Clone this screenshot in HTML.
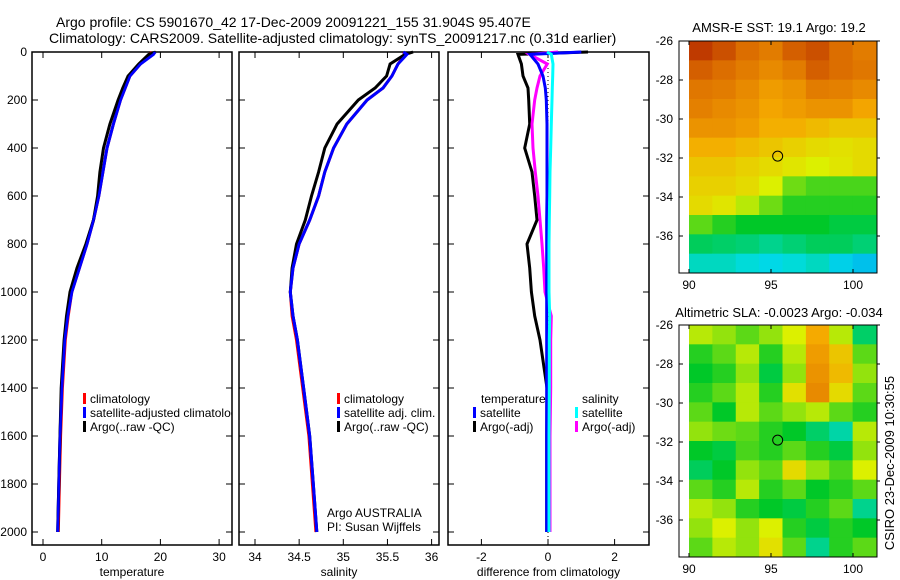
<!DOCTYPE html>
<html><head><meta charset="utf-8">
<style>
html,body{margin:0;padding:0;background:#fff;}
svg{display:block;font-family:"Liberation Sans",sans-serif;}
</style></head>
<body>
<svg id="fig" width="900" height="580" viewBox="0 0 900 580">
<text x="56" y="27" font-size="14">Argo profile: CS 5901670_42 17-Dec-2009 20091221_155 31.904S 95.407E</text>
<text x="49" y="43" font-size="14">Climatology: CARS2009. Satellite-adjusted climatology: synTS_20091217.nc (0.31d earlier)</text>
<text x="779" y="32" font-size="13" text-anchor="middle">AMSR-E SST: 19.1 Argo: 19.2</text>
<text x="779" y="317" font-size="13" text-anchor="middle">Altimetric SLA: -0.0023 Argo: -0.034</text>
<text x="0" y="0" font-size="13" text-anchor="middle" transform="translate(894,463) rotate(-90)">CSIRO 23-Dec-2009 10:30:55</text>
</svg>
<script>
// ---- data ----
const depths=[0,10,50,100,150,200,300,400,500,600,700,800,900,1000,1100,1200,1400,1600,1800,2000];
const tempClim=[18.2,18.6,16.6,14.8,14.0,13.2,12.0,10.9,10.2,9.5,8.6,7.5,6.2,4.9,4.3,3.8,3.3,3.0,2.8,2.6];
const tempSat=[19.1,18.8,16.6,14.8,14.0,13.2,12.0,10.9,10.2,9.5,8.6,7.5,6.2,4.9,4.2,3.7,3.2,2.9,2.7,2.5];
const tempArgo=[19.2,18.0,16.3,14.5,13.6,12.8,11.4,10.3,9.7,9.3,8.6,7.3,5.8,4.6,4.0,3.6,3.1,2.9,2.7,2.5];
const salClim=[35.68,35.70,35.62,35.55,35.45,35.27,35.04,34.89,34.79,34.72,34.62,34.50,34.43,34.40,34.42,34.47,34.54,34.61,34.65,34.69];
const salSat=[35.68,35.72,35.62,35.55,35.45,35.27,35.04,34.89,34.79,34.72,34.62,34.50,34.43,34.40,34.43,34.48,34.55,34.62,34.66,34.70];
const salArgo=[35.79,35.70,35.53,35.49,35.36,35.17,34.93,34.79,34.72,34.64,34.57,34.47,34.42,34.40,34.43,34.48,34.55,34.62,34.66,34.70];
const diffTSat=[1.0,-0.54,-0.3,-0.15,-0.08,-0.05,-0.03,-0.03,-0.03,-0.03,-0.04,-0.04,-0.04,-0.04,-0.04,-0.04,-0.04,-0.04,-0.04,-0.04];
const diffTArgo=[1.2,-0.9,-0.8,-0.75,-0.6,-0.58,-0.55,-0.7,-0.48,-0.4,-0.33,-0.63,-0.55,-0.5,-0.4,-0.24,-0.03,-0.04,-0.04,-0.04];
const diffSSat=[-0.03,0.1,0.15,0.14,0.13,0.12,0.1,0.08,0.06,0.05,0.04,0.03,0.03,0.03,0.05,0.04,0.04,0.03,0.03,0.03];
const diffSArgo=[0.3,-0.55,-0.02,-0.24,-0.33,-0.4,-0.48,-0.45,-0.38,-0.3,-0.24,-0.18,-0.13,-0.09,0.1,0.08,0.08,0.06,0.06,0.06];
const depthTicks=[0,200,400,600,800,1000,1200,1400,1600,1800,2000];
const tempTicks=[0,10,20,30];
const salTicks=[34,34.5,35,35.5,36];
const diffTicks=[-2,0,2];
const lonTicks=[90,95,100];
const latTicks=[-26,-28,-30,-32,-34,-36];
const sstGrid=[
[.95,.92,.88,.85,.90,.92,.88,.85],
[.90,.88,.85,.82,.85,.90,.88,.86],
[.86,.85,.82,.78,.80,.85,.84,.82],
[.84,.82,.80,.76,.78,.80,.80,.76],
[.80,.80,.78,.74,.74,.72,.70,.70],
[.74,.74,.72,.70,.68,.66,.65,.66],
[.70,.70,.68,.66,.64,.62,.64,.66],
[.68,.68,.66,.62,.56,.54,.54,.54],
[.66,.64,.60,.56,.52,.52,.52,.52],
[.55,.52,.50,.50,.50,.50,.48,.48],
[.46,.45,.44,.42,.44,.46,.46,.44],
[.38,.38,.36,.34,.36,.38,.32,.28]];
const slaGrid=[
[.60,.58,.55,.58,.62,.75,.60,.45],
[.52,.55,.60,.52,.60,.78,.70,.55],
[.50,.52,.58,.48,.58,.80,.72,.58],
[.52,.55,.60,.52,.65,.82,.66,.55],
[.55,.50,.60,.55,.58,.60,.55,.52],
[.58,.56,.55,.52,.50,.45,.40,.60],
[.50,.48,.54,.52,.55,.52,.48,.58],
[.46,.50,.58,.55,.66,.58,.54,.62],
[.55,.52,.60,.52,.55,.50,.52,.55],
[.60,.58,.52,.50,.48,.52,.55,.42],
[.58,.62,.58,.62,.52,.48,.52,.50],
[.55,.60,.58,.65,.55,.42,.52,.55]];
const argoLon=95.407, argoLat=-31.904;

const NS='http://www.w3.org/2000/svg';
const svg=document.getElementById('fig');
function mk(tag,attrs,parent){const e=document.createElementNS(NS,tag);for(const k in attrs)e.setAttribute(k,attrs[k]);(parent||svg).appendChild(e);return e;}
const yD=d=>52+d*0.24;

function panel(name,x0,x1,xs,ticks,label,showY,fmt){
  const g=mk('g',{});
  
  
  mk('rect',{x:x0,y:52,width:x1-x0,height:493,fill:'none',stroke:'#000','stroke-width':1.5},g);
  ticks.forEach(t=>{const x=xs(t);
    mk('line',{x1:x,y1:545,x2:x,y2:539,stroke:'#000'},g);
    mk('line',{x1:x,y1:52,x2:x,y2:58,stroke:'#000'},g);
    const tx=mk('text',{x:x,y:561,'font-size':12,'text-anchor':'middle'},g);tx.textContent=fmt?fmt(t):t;
    
    
  });
  depthTicks.forEach(d=>{const y=yD(d);
    mk('line',{x1:x0,y1:y,x2:x0+6,y2:y,stroke:'#000'},g);
    mk('line',{x1:x1,y1:y,x2:x1-6,y2:y,stroke:'#000'},g);
    if(showY){const t=mk('text',{x:x0-5,y:y+4,'font-size':12,'text-anchor':'end'},g);t.textContent=d;
      
      }
  });
  const xl=mk('text',{x:(x0+x1)/2,y:576,'font-size':12,'text-anchor':'middle'},g);xl.textContent=label;
  
  
  return g;
}
function line(g,vals,xs,color,name,w){
  const pts=vals.map((v,i)=>xs(v).toFixed(1)+','+yD(depths[i]).toFixed(1)).join(' ');
  const p=mk('polyline',{points:pts,fill:'none',stroke:color,'stroke-width':w||3},g);
  
  
}
function legend(g,x,y,items){
  items.forEach((it,i)=>{
    if(it[1]) mk('rect',{x:x,y:y+i*14-6,width:3,height:11,fill:it[1]},g);
    const t=mk('text',{x:x+(it[2]||7),y:y+i*14+4,'font-size':12},g);t.textContent=it[0];
    
    
  });
}
// temperature
const xT=v=>43+v*5.87;
const gT=panel('temperature',32,232,xT,tempTicks,'temperature',true);
line(gT,tempClim,xT,'#f00','temp-climatology-line');
line(gT,tempSat,xT,'#00f','temp-satellite-line');
line(gT,tempArgo,xT,'#000','temp-argo-line');
line(gT,tempSat,xT,'#00f','temp-satellite-line-top',2.5);
const cl=mk('clipPath',{id:'c1'});mk('rect',{x:32,y:380,width:200,height:60},cl);
const lg1=mk('g',{'clip-path':'url(#c1)'},gT);
legend(lg1,83,399,[['climatology','#f00'],['satellite-adjusted climatology','#00f'],['Argo(..raw -QC)','#000']]);
// salinity
const xS=v=>255+(v-34)*88.3;
const gS=panel('salinity',239,439,xS,salTicks,'salinity',false);
line(gS,salClim,xS,'#f00','sal-climatology-line');
line(gS,salArgo,xS,'#000','sal-argo-line');
line(gS,salSat,xS,'#00f','sal-satellite-line');
legend(gS,337,399,[['climatology','#f00'],['satellite adj. clim.','#00f'],['Argo(..raw -QC)','#000']]);
legend(gS,320,513,[['Argo AUSTRALIA',null],['PI: Susan Wijffels',null]]);
// difference
const xDf=v=>548+v*33.3;
const gD=panel('difference',448,649,xDf,diffTicks,'difference from climatology',false);
mk('line',{x1:xDf(0),y1:52,x2:xDf(0),y2:545,stroke:'#000','stroke-dasharray':'1,3'},gD);
line(gD,diffTArgo,xDf,'#000','diff-temp-argo-line');
line(gD,diffSArgo,xDf,'#f0f','diff-sal-argo-line');
line(gD,diffTSat,xDf,'#00f','diff-temp-satellite-line');
line(gD,diffSSat,xDf,'#0ff','diff-sal-satellite-line');
legend(gD,473,399,[['temperature',null,8],['satellite','#00f'],['Argo(-adj)','#000']]);
legend(gD,575,399,[['salinity',null,7],['satellite','#0ff'],['Argo(-adj)','#f0f']]);

// colormap (jet-like)
function cmap(v){
  const stops=[[0,[0,80,255]],[0.35,[0,220,230]],[0.5,[0,200,40]],[0.62,[220,240,0]],[0.75,[245,170,0]],[0.88,[220,110,0]],[1,[170,20,0]]];
  for(let i=1;i<stops.length;i++){if(v<=stops[i][0]){const a=stops[i-1],b=stops[i],t=(v-a[0])/(b[0]-a[0]);
    return 'rgb('+a[1].map((c,k)=>Math.round(c+(b[1][k]-c)*t)).join(',')+')';}}
  return 'rgb(170,20,0)';
}
function map(name,top,grid){
  const g=mk('g',{});
  
  
  const lonX=l=>689+(l-90)*16.4;
  const latY=la=>top+(-26-la)*19.5;
  const x0=689,x1=876,y0=top,y1=top+232;
  const rows=grid.length,cols=grid[0].length;
  const cw=(x1-x0)/cols,ch=(y1-y0)/rows;
  grid.forEach((row,r)=>row.forEach((v,c)=>{
    const cell=mk('rect',{x:(x0+c*cw).toFixed(2),y:(y0+r*ch).toFixed(2),width:(cw+0.5).toFixed(2),height:(ch+0.5).toFixed(2),fill:cmap(v)},g);
    
    
  }));
  mk('rect',{x:679,y:y0,width:x1-679+1,height:232,fill:'none',stroke:'#000','stroke-width':1},g);
  mk('rect',{x:679.5,y:y0+0.5,width:9,height:231,fill:'#fff'},g);
  lonTicks.forEach(l=>{const x=lonX(l);
    mk('line',{x1:x,y1:y1,x2:x,y2:y1-4,stroke:'#000'},g);
    mk('line',{x1:x,y1:y0,x2:x,y2:y0+4,stroke:'#000'},g);
    const t=mk('text',{x:x,y:y1+16,'font-size':12,'text-anchor':'middle'},g);t.textContent=l;
    
    });
  latTicks.forEach(la=>{const y=latY(la);
    mk('line',{x1:679,y1:y,x2:683,y2:y,stroke:'#000'},g);
    mk('line',{x1:x1+1,y1:y,x2:x1+4,y2:y,stroke:'#000'},g);
    const t=mk('text',{x:673,y:y+4,'font-size':12,'text-anchor':'end'},g);t.textContent=la;
    
    });
  const m=mk('circle',{cx:lonX(argoLon),cy:latY(argoLat),r:5,fill:'none',stroke:'#000'},g);
  
  
}
map('sst-map',41,sstGrid);
map('sla-map',325,slaGrid);
</script>
</body></html>
